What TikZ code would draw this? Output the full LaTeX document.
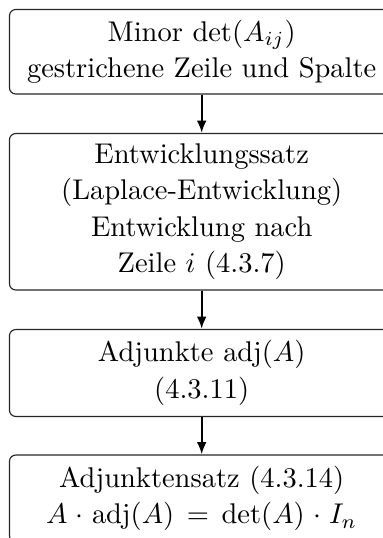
\documentclass[tikz,border=0pt]{standalone}
\usepackage{amsmath}
\usetikzlibrary{arrows.meta}
\begin{document}
\begin{tikzpicture}[x=0.35088pt,y=-0.35088pt,
  box/.style={draw=black!85,line width=0.4pt,rounded corners=2.2pt,
    text width=132.9pt,inner xsep=1pt,inner ysep=0pt,align=center,
    minimum width=134.9pt,font=\fontsize{10}{12.8}\selectfont},
  arr/.style={line width=0.8pt,-{Latex[length=4.3pt,width=3.4pt]}}]
\useasboundingbox (0,0) rectangle (383,538);
\node[box,minimum height=29.65pt] (n1) at (201.7,51.75)
  {Minor $\det(A_{ij})$\\gestrichene Zeile und Spalte};
\node[box,minimum height=54.9pt] (n2) at (201.7,211.75)
  {Entwicklungssatz\\(Laplace-Entwicklung)\\Entwicklung nach\\Zeile $i$ (4.3.7)};
\node[box,minimum height=30.5pt] (n3) at (201.7,373)
  {Adjunkte $\operatorname{adj}(A)$\\(4.3.11)};
\node[box,minimum height=30.5pt] (n4) at (201.7,498.5)
  {Adjunktensatz (4.3.14)\\$A\cdot\operatorname{adj}(A)=\det(A)\cdot I_n$};
\draw[arr] (n1) -- (n2);
\draw[arr] (n2) -- (n3);
\draw[arr] (n3) -- (n4);
\end{tikzpicture}
\end{document}
